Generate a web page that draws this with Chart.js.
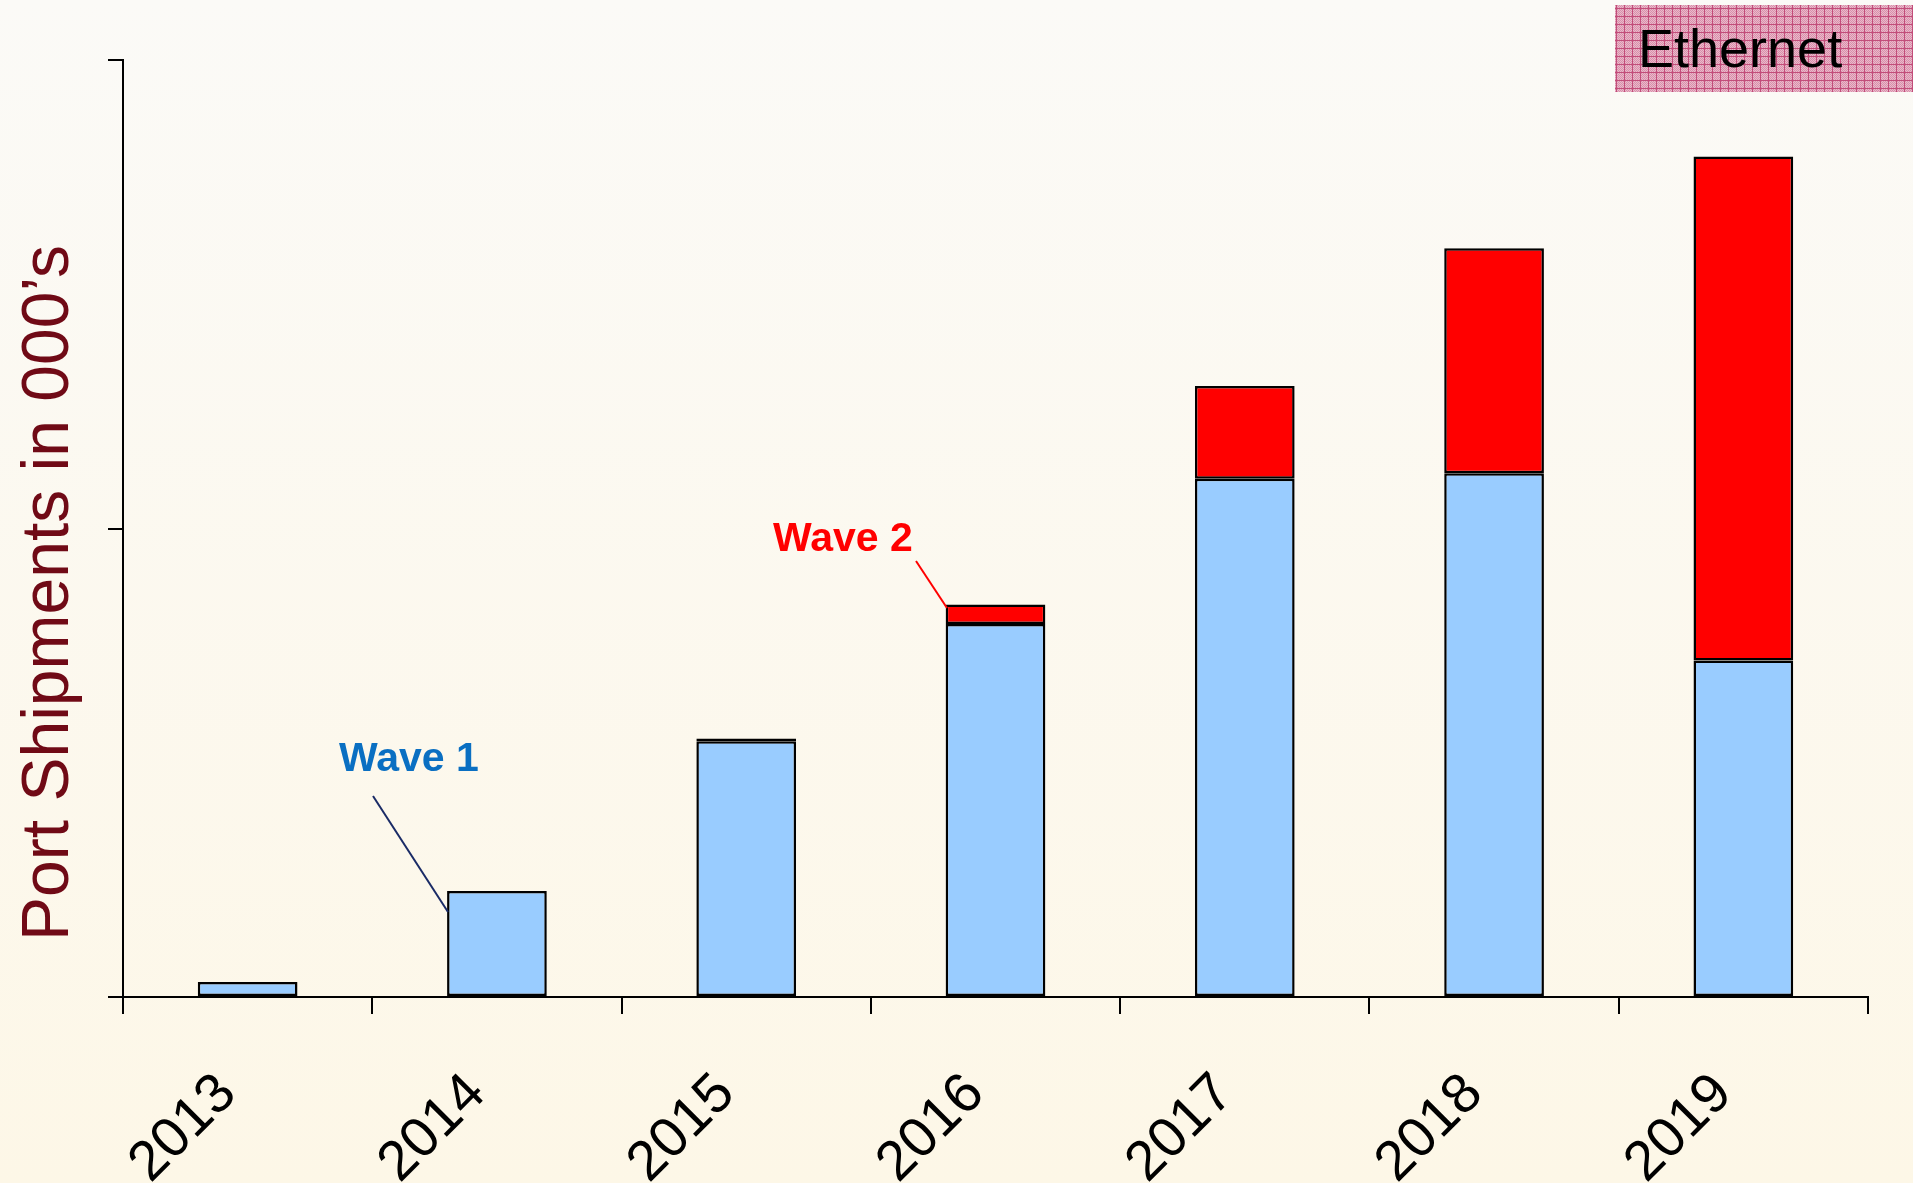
<!DOCTYPE html>
<html>
<head>
<meta charset="utf-8">
<script src="https://cdn.jsdelivr.net/npm/chart.js@4"></script>
<style>
html,body{margin:0;padding:0;background:#fcf8ee;}
#wrap{position:relative;width:1913px;height:1183px;}
canvas{display:block;}
</style>
</head>
<body>
<div id="wrap"><canvas id="c" width="1913" height="1183"></canvas></div>
<script>
const categories = ['2013','2014','2015','2016','2017','2018','2019'];
const wave1 = [1.6, 11.3, 27.3, 39.8, 55.3, 55.9, 35.9];
const wave2 = [0, 0, 0.3, 2.1, 9.9, 24.0, 53.8];
const yTicks = [0, 50, 100];
const seriesNames = ['Wave 1', 'Wave 2'];
const yTitle = "Port Shipments in 000\u2019s";
const boxLabel = 'Ethernet';

function makePattern(ctx){
  const p = document.createElement('canvas');
  p.width = 8; p.height = 8;
  const g = p.getContext('2d');
  g.fillStyle = '#e9b9ca'; g.fillRect(0,0,8,8);
  for(let y=0;y<8;y++) for(let x=0;x<8;x++){
    if((x+y)%2===0){ g.fillStyle='#d98fab'; g.fillRect(x,y,1,1); }
  }
  g.fillStyle = '#c24d7a';
  g.fillRect(0,0,8,1);
  g.fillRect(0,0,1,8);
  return ctx.createPattern(p,'repeat');
}

const bgPlugin = {
  id:'bg',
  beforeDraw(chart){
    const {ctx,width,height} = chart;
    const grd = ctx.createLinearGradient(0,0,0,height);
    grd.addColorStop(0,'#fbfaf7');
    grd.addColorStop(1,'#fdf7e7');
    ctx.save(); ctx.fillStyle = grd; ctx.fillRect(0,0,width,height); ctx.restore();
  }
};

const decoPlugin = {
  id:'deco',
  afterDraw(chart){
    const ctx = chart.ctx;
    ctx.save();
    // Ethernet box
    ctx.fillStyle = makePattern(ctx);
    ctx.fillRect(1615,5,298,87);
    ctx.fillStyle = '#000';
    ctx.font = '54px "Liberation Sans", Arial, sans-serif';
    ctx.textBaseline = 'alphabetic';
    ctx.textAlign = 'left';
    ctx.fillText(boxLabel, 1638, 67);
    // Y title
    ctx.save();
    ctx.translate(68, 593);
    ctx.rotate(-Math.PI/2);
    ctx.fillStyle = '#700a16';
    ctx.font = '66px "Liberation Sans", Arial, sans-serif';
    ctx.textAlign = 'center';
    ctx.textBaseline = 'alphabetic';
    ctx.fillText(yTitle, 0, 0);
    ctx.restore();
    // annotations
    ctx.font = 'bold 41px "Liberation Sans", Arial, sans-serif';
    ctx.textAlign = 'left';
    ctx.fillStyle = '#0a6fc2';
    ctx.fillText(seriesNames[0], 339, 771);
    ctx.strokeStyle = '#1a2b66';
    ctx.lineWidth = 2;
    ctx.beginPath(); ctx.moveTo(373,796); ctx.lineTo(448,912); ctx.stroke();
    ctx.fillStyle = '#ff0000';
    ctx.fillText(seriesNames[1], 773, 551);
    ctx.strokeStyle = '#ff0000';
    ctx.beginPath(); ctx.moveTo(916,561); ctx.lineTo(947,608); ctx.stroke();
    ctx.restore();
  }
};

new Chart(document.getElementById('c'), {
  type:'bar',
  data:{
    labels: categories,
    datasets:[
      {label:seriesNames[0], data:wave1, backgroundColor:'#99ccff', borderColor:'#000', borderWidth:2.5, borderSkipped:false},
      {label:seriesNames[1], data:wave2, backgroundColor:'#ff0000', borderColor:'#000', borderWidth:2.5, borderSkipped:false}
    ]
  },
  options:{
    responsive:false,
    animation:false,
    layout:{padding:{left:0,top:60,right:45,bottom:0}},
    plugins:{legend:{display:false}, tooltip:{enabled:false}},
    datasets:{bar:{barPercentage:0.4, categoryPercentage:1}},
    scales:{
      x:{
        stacked:true,
        grid:{display:true, drawOnChartArea:false, drawTicks:true, tickLength:17, color:'#000', lineWidth:2, offset:true},
        border:{display:true, color:'#000', width:2},
        ticks:{color:'#000', font:{size:56, family:'"Liberation Sans", Arial, sans-serif'}, maxRotation:45, minRotation:45, autoSkip:false, padding:47, labelOffset:-20},
        afterFit(s){ s.height = 186; }
      },
      y:{
        stacked:true,
        min:0, max:100,
        afterBuildTicks(s){ s.ticks = yTicks.map(v=>({value:v})); },
        grid:{display:true, drawOnChartArea:false, drawTicks:true, tickLength:15, color:'#000', lineWidth:2},
        border:{display:true, color:'#000', width:2},
        ticks:{display:false},
        afterFit(s){ s.width = 123; }
      }
    }
  },
  plugins:[bgPlugin, decoPlugin]
});
</script>
</body>
</html>
